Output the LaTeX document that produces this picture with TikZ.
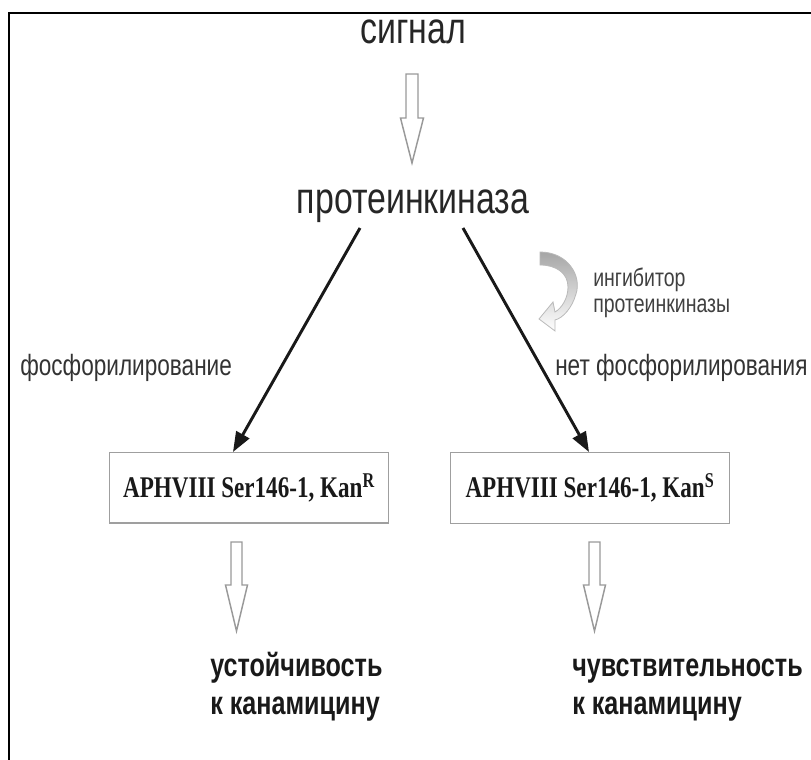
\documentclass[tikz,border=0pt]{standalone}
\usepackage{fontspec}
\setmainfont{Liberation Sans}[FakeStretch=0.77]
\newfontfamily\serifbox{Liberation Serif}[FakeStretch=0.77]
\usetikzlibrary{positioning,arrows.meta,calc}

\tikzset{
  bigtext/.style={font=\fontsize{33}{36}\selectfont, text=black!85, inner sep=0pt},
  phoslabel/.style={font=\fontsize{22}{26}\selectfont, text=black!80, inner sep=0pt},
  inhlabel/.style={font=\fontsize{19}{20}\selectfont, text=black!75, inner sep=0pt, align=left},
  result/.style={font=\fontsize{24.5}{28}\selectfont\bfseries, text=black!90, inner sep=0pt, align=left},
  aphbox/.style={draw=gray!75, line width=1pt, minimum width=209pt, minimum height=53pt,
    font=\serifbox\bfseries\fontsize{22.5}{26}\selectfont, text=black!90},
  hollow/.style={draw=gray!80, line width=1.1pt, fill=white, line join=miter},
  pathway/.style={line width=2.2pt, black!90, -{Triangle[length=15pt,width=11pt]}}
}

\begin{document}
\begin{tikzpicture}[x=0.75pt,y=-0.75pt]
    \useasboundingbox (0,0) rectangle (811,760);
    % Frame (cut at right and bottom)
    \draw[line width=2.2pt] (9,760) -- (9,13) -- (811,13);

    % Signal and kinase
    \node[bigtext, anchor=base] (signal) at (413,43) {сигнал};
    \node[bigtext, anchor=base] (kinase) at (413,213) {протеинкиназа};

    % Boxes
    \node[aphbox] (boxR) at (249,487.5) {APHVIII Ser146-1, Kan\textsuperscript{R}};
    \node[aphbox] (boxS) at (590,488) {APHVIII Ser146-1, Kan\textsuperscript{S}};

    % Block arrows
    \foreach \cx/\ya/\yb/\yc/\sw/\hw in {412/74/118/163/6/11.5, 236.5/542/585/631/5.5/11, 594.5/542/585/631/5.5/11} {
        \draw[hollow] (\cx-\sw,\ya) -- (\cx+\sw,\ya) -- (\cx+\sw,\yb) -- (\cx+\hw,\yb)
            -- (\cx,\yc) -- (\cx-\hw,\yb) -- (\cx-\sw,\yb) -- cycle;
    }

    % Pathway arrows
    \coordinate (kL) at (360,228);
    \coordinate (kR) at (463,228);
    \coordinate (tL) at (233,452);
    \coordinate (tR) at (589,452);
    \draw[pathway] (kL) -- (tL);
    \draw[pathway] (kR) -- (tR);

    \node[phoslabel, anchor=base west] (phos) at (20,375) {фосфорилирование};
    \node[phoslabel, anchor=base west] (nophos) at (555,375) {нет фосфорилирования};

    % Inhibitor
    \draw[draw=gray!55, line width=0.6pt, top color=gray!70, bottom color=white]
        (540,252) .. controls (568,252) and (582,276) .. (576,294)
        .. controls (572,308) and (563,318) .. (555,320)
        -- (555,331) -- (539,319) -- (553,302) -- (555,312)
        .. controls (562,308) and (568,298) .. (568,287)
        .. controls (568,273) and (556,265) .. (540,265) -- cycle;
    \node[inhlabel, anchor=base west] (inhib) at (593,312) {ингибитор\\[-1pt]протеинкиназы};

    % Results
    \node[result, anchor=base west] (resist) at (210,714) {устойчивость\\к канамицину};
    \node[result, anchor=base west] (sens) at (572,714) {чувствительность\\к канамицину};
\end{tikzpicture}
\end{document}
